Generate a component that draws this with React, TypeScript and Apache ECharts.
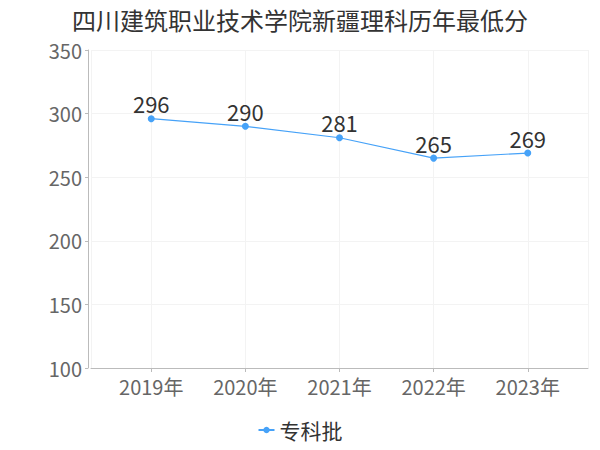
import React, { useEffect, useRef } from "react";
import * as echarts from "echarts";

const title = "四川建筑职业技术学院新疆理科历年最低分";
const years = [2019, 2020, 2021, 2022, 2023];
const seriesName = "专科批";
const scores = [296, 290, 281, 265, 269];
const yTicks = [100, 150, 200, 250, 300, 350];

export default function App() {
  const ref = useRef<HTMLDivElement>(null);
  useEffect(() => {
    if (!ref.current) return;
    const chart = echarts.init(ref.current, undefined, { renderer: "svg" });
    const font = "Noto Sans CJK SC, sans-serif";
    chart.setOption({
      animation: false,
      title: {
        text: title,
        left: "center",
        top: 2,
        textStyle: { fontSize: 24, fontWeight: "normal", color: "#333", fontFamily: font },
      },
      legend: {
        bottom: 5,
        left: "center",
        data: [seriesName],
        itemWidth: 16,
        itemHeight: 8,
        itemGap: 6,
        padding: [2, 5, 2, 5],
        textStyle: { fontSize: 21, color: "#333", fontFamily: font, lineHeight: 26 },
      },
      grid: { left: 91, right: 12, top: 50, bottom: 82, containLabel: false },
      xAxis: {
        type: "value",
        min: years[0] - 0.64,
        max: years[years.length - 1] + 0.64,
        splitNumber: 5,
        minInterval: 1,
        axisLine: { show: true, lineStyle: { color: "#bbb" } },
        axisTick: { show: true, length: 4, lineStyle: { color: "#bbb" } },
        axisLabel: {
          fontSize: 20,
          color: "#666",
          margin: 8,
          fontFamily: font,
          showMinLabel: false,
          showMaxLabel: false,
          formatter: (v: number) => (Number.isInteger(v) && years.includes(v) ? v + "年" : ""),
        },
        splitLine: { show: true, lineStyle: { color: "#f3f3f3" } },
      },
      yAxis: {
        type: "value",
        min: yTicks[0],
        max: yTicks[yTicks.length - 1],
        interval: 50,
        offset: 3,
        axisLine: { show: true, lineStyle: { color: "#bbb" } },
        axisTick: { show: true, length: 3, lineStyle: { color: "#bbb" } },
        axisLabel: { fontSize: 20, color: "#666", margin: 6, fontFamily: font },
        splitLine: { show: true, lineStyle: { color: "#f3f3f3" } },
      },
      series: [
        {
          name: seriesName,
          type: "line",
          data: years.map((y, i) => [y, scores[i]]),
          symbol: "circle",
          symbolSize: 7,
          itemStyle: { color: "#46a2f8" },
          lineStyle: { color: "#46a2f8", width: 1.2 },
          label: {
            show: true,
            position: "top",
            distance: 1,
            fontSize: 22,
            color: "#333",
            fontFamily: font,
          },
        },
      ],
    });
    return () => chart.dispose();
  }, []);
  return <div ref={ref} style={{ width: 600, height: 450, margin: -8 }} />;
}
